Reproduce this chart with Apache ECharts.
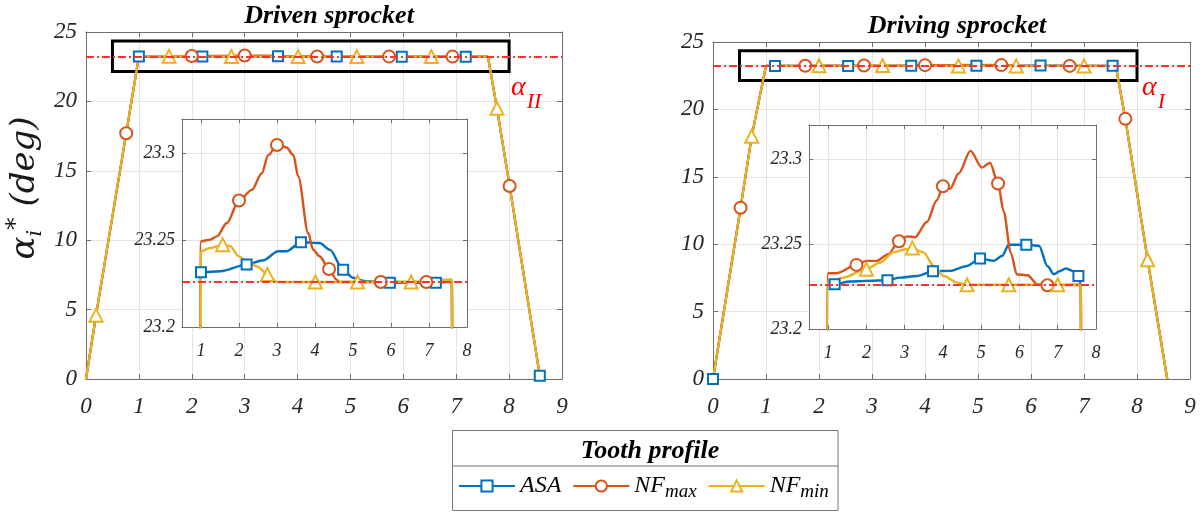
<!DOCTYPE html>
<html>
<head>
<meta charset="utf-8">
<script src="https://cdn.jsdelivr.net/npm/echarts@6/dist/echarts.min.js"></script>
<style>html,body{margin:0;padding:0;background:#fff}#c{width:1200px;height:515px}</style>
</head>
<body>
<div id="c"></div>
<script>
// ---------------- data ----------------
const seriesNames = ['ASA', 'NF_max', 'NF_min'];
const mainX = [0, 9];
const mainY = [0, 25];
const insetX = [0.5, 8];
const insetY = [23.2, 23.32];
const insetXTicks = [1, 2, 3, 4, 5, 6, 7, 8];
const insetYTicks = [23.2, 23.25, 23.3];
const zoomBoxX = [0.5, 8];
const zoomBoxY = [22.15, 24.35];
const alphaDriven = 23.226;   // alpha_II
const alphaDriving = 23.226;  // alpha_I

// Driven sprocket: shared ramps, per-series curve points and marker points
const drivenRamp = [[0,0],[0.19,4.6],[0.76,17.7],[7.77,19.5],[8.01,13.9],[8.58,0.24]];
const drivenASA_curve = [[1.51,23.2322],[2.64,23.2385],[3.03,23.2437],[3.25,23.2437],[4.12,23.2485],[4.39,23.2446],[5.0,23.2284],[5.35,23.2264],[7.45,23.2262],[7.6,23.2266]];
const drivenASA_marks = [[1.0,23.2316],[2.2,23.236],[3.63,23.2489],[4.74,23.2331],[5.97,23.2255],[7.18,23.2255],[8.58,0.24]];
const drivenNFmax_curve = [[1.0,23.2494],[1.24,23.2504],[1.42,23.2523],[1.68,23.26],[2.34,23.2791],[2.6,23.2887],[2.77,23.2992],[3.25,23.3036],[3.43,23.2992],[3.56,23.2868],[3.82,23.2542],[3.95,23.2446],[4.12,23.2408],[4.56,23.2274],[4.65,23.226],[7.6,23.226]];
const drivenNFmax_marks = [[0.76,17.7],[2.0,23.273],[3.0,23.305],[4.37,23.2335],[5.73,23.226],[6.93,23.226],[8.01,13.9]];
const drivenNFmin_curve = [[1.0,23.2437],[1.24,23.2456],[1.77,23.2466],[1.99,23.2408],[2.2,23.238],[2.47,23.235],[3.0,23.226],[7.6,23.2274]];
const drivenNFmin_marks = [[0.19,4.6],[1.57,23.2475],[2.75,23.2303],[4.01,23.226],[5.12,23.226],[6.53,23.226],[7.77,19.5]];

// Driving sprocket
const drivingRamp = [[0,0],[0.52,12.7],[0.73,18.0],[7.78,19.3],[8.2,8.85],[8.57,0]];
const drivingASA_curve = [[1.0,23.2279],[1.57,23.2279],[2.0,23.2283],[2.88,23.2302],[3.32,23.2312],[4.19,23.2342],[4.63,23.2371],[5.33,23.2401],[5.55,23.2431],[5.72,23.2496],[6.51,23.249],[6.73,23.2371],[6.9,23.2322],[7.05,23.234],[7.21,23.2356],[7.39,23.2342],[7.6,23.2262]];
const drivingASA_marks = [[0,0],[1.17,23.2263],[2.55,23.2287],[3.74,23.234],[4.97,23.2415],[6.18,23.2496],[7.54,23.2312]];
const drivingNFmax_curve = [[1.0,23.2328],[1.22,23.2328],[2.0,23.2401],[2.27,23.2401],[2.57,23.244],[3.06,23.2545],[3.27,23.254],[3.58,23.2629],[3.84,23.2757],[4.19,23.2826],[4.41,23.2915],[4.72,23.3048],[5.02,23.2949],[5.23,23.2978],[5.59,23.2688],[5.77,23.2451],[5.93,23.2322],[6.21,23.2316],[6.47,23.2263],[7.6,23.226]];
const drivingNFmax_marks = [[0.52,12.7],[1.74,23.2377],[2.85,23.2516],[4.0,23.284],[5.44,23.2856],[6.73,23.2257],[7.78,19.3]];
const drivingNFmin_curve = [[1.0,23.2279],[1.39,23.2302],[2.36,23.2391],[2.71,23.2451],[2.97,23.2466],[3.49,23.2451],[3.76,23.2371],[4.02,23.2312],[4.37,23.2273],[7.6,23.226]];
const drivingNFmin_marks = [[0.73,18.0],[2.0,23.2352],[3.2,23.2476],[4.63,23.226],[5.72,23.226],[7.0,23.226],[8.2,8.85]];

// ---------------- styling ----------------
const FONT = 'Liberation Serif';
const LABEL_FONT = 'DejaVu Serif';
const AX = '#6e6e6e';
const GRIDC = '#e4e4e4';
const TXT = '#262626';
const COLORS = ['#0072BD', '#D95319', '#EDB120'];
const SYMBOLS = ['emptyRect', 'emptyCircle', 'emptyTriangle'];
const SIZES = [10, 12, 13];
const ALPHA_C = '#ff3030';

function merge(curve, marks, ramp) {
  const markX = marks.map(p => p[0]);
  const pts = curve.concat(ramp.filter(p => markX.indexOf(p[0]) < 0))
    .map(p => ({ value: p, symbol: 'none' }))
    .concat(marks.map(p => ({ value: p })));
  pts.sort((a, b) => a.value[0] - b.value[0]);
  return pts;
}

const drivenData = [
  merge(drivenASA_curve, drivenASA_marks, drivenRamp),
  merge(drivenNFmax_curve, drivenNFmax_marks, drivenRamp),
  merge(drivenNFmin_curve, drivenNFmin_marks, drivenRamp)];
const drivingData = [
  merge(drivingASA_curve, drivingASA_marks, drivingRamp),
  merge(drivingNFmax_curve, drivingNFmax_marks, drivingRamp),
  merge(drivingNFmin_curve, drivingNFmin_marks, drivingRamp)];

const grids = [
  { left: 86, top: 32, width: 476, height: 347, z: 0 },
  { left: 182, top: 119, width: 285, height: 208, z: 3, show: true, backgroundColor: '#fff', borderWidth: 0 },
  { left: 713, top: 42, width: 477, height: 337, z: 0 },
  { left: 809, top: 125, width: 287, height: 204, z: 3, show: true, backgroundColor: '#fff', borderWidth: 0 }
];

const xAxes = [], yAxes = [];
function addAxes(g, inset) {
  const z = inset ? 4 : 0;
  const lab = { fontFamily: FONT, fontStyle: 'italic', color: TXT };
  const line = { show: true, onZero: false, lineStyle: { color: AX, width: 1 } };
  const tick = { show: true, inside: true, length: inset ? 4 : 5, lineStyle: { color: AX } };
  const split = { show: true, lineStyle: { color: GRIDC, width: 1 } };
  if (!inset) {
    xAxes.push({ type: 'value', gridIndex: g, position: 'bottom', min: mainX[0], max: mainX[1], interval: 1, z,
      axisLine: line, axisTick: tick, splitLine: split,
      axisLabel: Object.assign({ fontSize: 23, margin: 16 }, lab) });
    xAxes.push({ type: 'value', gridIndex: g, position: 'top', min: mainX[0], max: mainX[1], interval: 1, z,
      axisLine: line, axisTick: tick, splitLine: { show: false }, axisLabel: { show: false } });
    yAxes.push({ type: 'value', gridIndex: g, position: 'left', min: mainY[0], max: mainY[1], interval: 5, z,
      axisLine: line, axisTick: tick, splitLine: split,
      axisLabel: Object.assign({ fontSize: 23, margin: 9 }, lab) });
    yAxes.push({ type: 'value', gridIndex: g, position: 'right', min: mainY[0], max: mainY[1], interval: 5, z,
      axisLine: line, axisTick: tick, splitLine: { show: false }, axisLabel: { show: false } });
  } else {
    const tx = Object.assign({}, tick, { customValues: insetXTicks });
    const ty = Object.assign({}, tick, { customValues: insetYTicks });
    xAxes.push({ type: 'value', gridIndex: g, position: 'bottom', min: insetX[0], max: insetX[1], z,
      axisLine: line, axisTick: tx, splitLine: split,
      axisLabel: Object.assign({ fontSize: 18, margin: 15, customValues: insetXTicks }, lab) });
    xAxes.push({ type: 'value', gridIndex: g, position: 'top', min: insetX[0], max: insetX[1], z,
      axisLine: line, axisTick: tx, splitLine: { show: false }, axisLabel: { show: false } });
    yAxes.push({ type: 'value', gridIndex: g, position: 'left', min: insetY[0], max: insetY[1], z,
      axisLine: line, axisTick: ty, splitLine: split,
      axisLabel: Object.assign({ fontSize: 18, margin: 7, customValues: insetYTicks }, lab) });
    yAxes.push({ type: 'value', gridIndex: g, position: 'right', min: insetY[0], max: insetY[1], z,
      axisLine: line, axisTick: ty, splitLine: { show: false }, axisLabel: { show: false } });
  }
}
addAxes(0, false); addAxes(1, true); addAxes(2, false); addAxes(3, true);

const series = [];
function addSeries(g, inset, dataSet, alpha) {
  dataSet.forEach((d, i) => {
    const s = {
      type: 'line', name: seriesNames[i], data: d,
      xAxisIndex: 2 * g, yAxisIndex: 2 * g,
      symbol: SYMBOLS[i], symbolSize: SIZES[i],
      color: COLORS[i],
      lineStyle: { color: COLORS[i], width: inset ? 2.4 : 2.2 },
      itemStyle: { color: COLORS[i], borderWidth: 2 },
      smooth: inset ? 0.3 : false, smoothMonotone: 'x',
      clip: true, z: inset ? 6 : 2, silent: true, animation: false
    };
    if (i === 0 && !inset) {
      s.markArea = { silent: true, z: 1, label: { show: false },
        itemStyle: { color: 'rgba(0,0,0,0)', borderColor: '#000', borderWidth: 3 },
        data: [[{ coord: [zoomBoxX[0], zoomBoxY[1]] }, { coord: [zoomBoxX[1], zoomBoxY[0]] }]] };
    }
    if (i === 2) {
      s.markLine = { silent: true, symbol: ['none', 'none'], z: inset ? 7 : 5, precision: 4,
        label: { show: false },
        lineStyle: { color: ALPHA_C, width: 2, type: [8, 3, 2, 3] },
        data: [{ yAxis: alpha }] };
    }
    series.push(s);
  });
}
addSeries(0, false, drivenData, alphaDriven);
addSeries(1, true, drivenData, alphaDriven);
addSeries(2, false, drivingData, alphaDriving);
addSeries(3, true, drivingData, alphaDriving);

const titleStyle = { fontFamily: FONT, fontStyle: 'italic', fontWeight: 'bold', fontSize: 26, color: '#000' };
const alphaRich = {
  a: { fontFamily: FONT, fontStyle: 'italic', fontSize: 28, lineHeight: 28, verticalAlign: 'top', fill: '#ff0000' },
  b: { fontFamily: FONT, fontStyle: 'italic', fontSize: 22, lineHeight: 22, padding: [17, 0, 0, 1], verticalAlign: 'top', fill: '#ff0000' }
};

const option = {
  animation: false,
  backgroundColor: '#fff',
  title: [
    { text: 'Driven sprocket', left: 324, top: -2, textAlign: 'center', textStyle: titleStyle },
    { text: 'Driving sprocket', left: 952, top: 8, textAlign: 'center', textStyle: titleStyle },
    { text: 'Tooth profile', left: 645, top: 433, textAlign: 'center', textStyle: titleStyle }
  ],
  grid: grids,
  xAxis: xAxes,
  yAxis: yAxes,
  series: series,
  legend: {
    data: seriesNames, left: 458, top: 474, padding: 0,
    itemWidth: 56, itemHeight: 14, itemGap: 11, selectedMode: false,
    formatter: n => n === 'ASA' ? '{a|ASA}' : '{a|NF}{b|' + n.split('_')[1] + '}',
    textStyle: {
      fontFamily: FONT, fontStyle: 'italic', fontSize: 24, color: '#000',
      rich: {
        a: { fontFamily: FONT, fontStyle: 'italic', fontSize: 24, lineHeight: 31, verticalAlign: 'middle', color: '#000' },
        b: { fontFamily: FONT, fontStyle: 'italic', fontSize: 19, lineHeight: 17, verticalAlign: 'bottom', color: '#000' }
      }
    }
  },
  graphic: [
    { type: 'rect', z: 1, shape: { x: 452.5, y: 430.5, width: 385.5, height: 80 }, style: { fill: '#fff', stroke: '#777', lineWidth: 1 } },
    { type: 'line', z: 2, shape: { x1: 452.5, y1: 466, x2: 838, y2: 466 }, style: { stroke: '#777', lineWidth: 1 } },
    { type: 'text', z: 10, x: 511, y: 74, style: { text: '{a|α}{b|II}', rich: alphaRich } },
    { type: 'text', z: 10, x: 1142, y: 74, style: { text: '{a|α}{b|I}', rich: alphaRich } },
    { type: 'text', z: 10, x: 25, y: 188, rotation: Math.PI / 2,
      style: { text: '{a|α}{s|i}{p|*}{a| (deg)}', align: 'center', verticalAlign: 'middle',
        rich: {
          a: { fontFamily: LABEL_FONT, fontStyle: 'italic', fontSize: 34, lineHeight: 42, verticalAlign: 'middle', fill: '#1a1a1a' },
          s: { fontFamily: LABEL_FONT, fontStyle: 'italic', fontSize: 21, lineHeight: 20, verticalAlign: 'bottom', fill: '#1a1a1a' },
          p: { fontFamily: LABEL_FONT, fontStyle: 'italic', fontSize: 25, lineHeight: 20, verticalAlign: 'top', fill: '#1a1a1a' }
        } } }
  ]
};

const chart = echarts.init(document.getElementById('c'), null, { renderer: 'canvas' });
chart.setOption(option);
</script>
</body>
</html>
